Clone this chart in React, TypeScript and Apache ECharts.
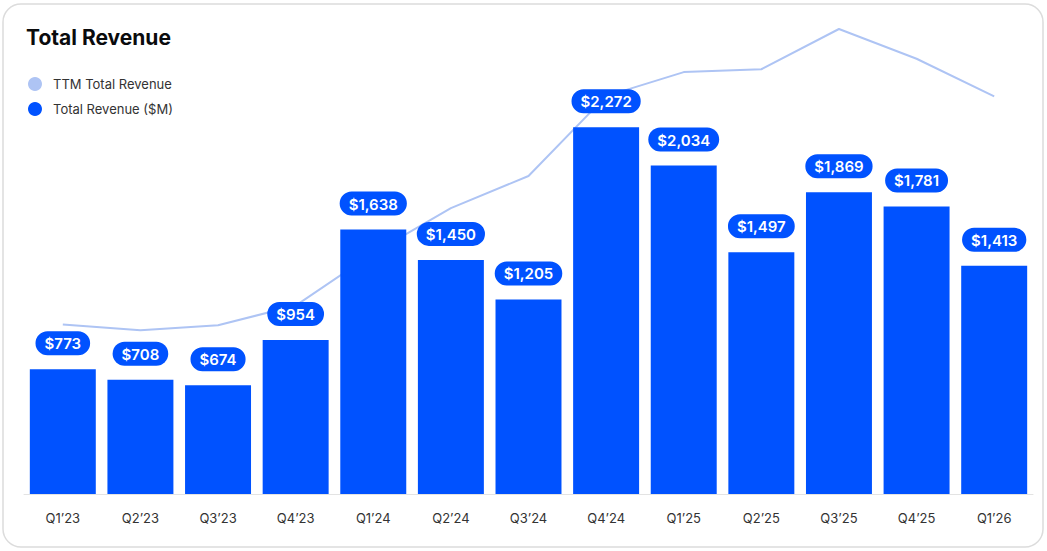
import React, { useEffect, useRef } from "react";
import * as echarts from "echarts";

const categories = ["Q1’23", "Q2’23", "Q3’23", "Q4’23", "Q1’24", "Q2’24", "Q3’24", "Q4’24", "Q1’25", "Q2’25", "Q3’25", "Q4’25", "Q1’26"];
const revenue = [773, 708, 674, 954, 1638, 1450, 1205, 2272, 2034, 1497, 1869, 1781, 1413];
const ttmRevenue = [2795, 2700, 2784, 3109, 3974, 4716, 5247, 6565, 6961, 7008, 7672, 7181, 6560];

const FONT = "Inter, 'Noto Sans', sans-serif";
const BLUE = "#0052ff";
const LIGHT = "#aec4f4";

export default function App() {
  const ref = useRef<HTMLDivElement>(null);
  useEffect(() => {
    if (!ref.current) return;
    const chart = echarts.init(ref.current, undefined, { renderer: "svg" });
    chart.setOption({
      animation: false,
      backgroundColor: "#ffffff",
      textStyle: { fontFamily: FONT },
      graphic: [
        {
          type: "rect",
          z: -10,
          silent: true,
          shape: { x: 3, y: 4, width: 1040, height: 543, r: 18 },
          style: { fill: "#ffffff", stroke: "#dcdcdc", lineWidth: 1.5 },
        },
      ],
      title: {
        text: "Total Revenue",
        left: 26,
        top: 27,
        padding: 0,
        textStyle: { fontFamily: FONT, fontSize: 21, fontWeight: "bold", color: "#0a0b0d" },
      },
      legend: {
        orient: "vertical",
        left: 28,
        top: 77,
        padding: 0,
        itemGap: 11,
        itemWidth: 14,
        itemHeight: 14,
        icon: "circle",
        data: ["TTM Total Revenue", "Total Revenue ($M)"],
        textStyle: { fontFamily: FONT, fontSize: 13, color: "#333333", padding: [0, 0, 0, 6] },
      },
      grid: { left: 24, right: 14, top: 29, bottom: 57, containLabel: false },
      xAxis: {
        type: "category",
        data: categories,
        axisLine: { show: true, lineStyle: { color: "#e3e3e3", width: 1 } },
        axisTick: { show: false },
        axisLabel: { margin: 17, fontFamily: FONT, fontSize: 13, color: "#333333" },
      },
      yAxis: [
        { type: "value", min: 0, max: 2880, show: false, splitLine: { show: false } },
        { type: "value", min: 0, max: 7672, show: false, splitLine: { show: false } },
      ],
      series: [
        {
          name: "TTM Total Revenue",
          type: "line",
          yAxisIndex: 1,
          data: ttmRevenue,
          symbol: "none",
          color: LIGHT,
          lineStyle: { color: LIGHT, width: 2 },
          z: 1,
        },
        {
          name: "Total Revenue ($M)",
          type: "bar",
          yAxisIndex: 0,
          data: revenue,
          barWidth: "85%",
          color: BLUE,
          itemStyle: { color: BLUE },
          z: 2,
          label: {
            show: true,
            position: "top",
            distance: 14,
            formatter: (p: any) => "$" + Number(p.value).toLocaleString("en-US"),
            backgroundColor: BLUE,
            borderRadius: 12,
            padding: [5, 9, 4, 9],
            color: "#ffffff",
            fontFamily: FONT,
            fontSize: 15,
            fontWeight: 600,
          },
        },
      ],
    });
    return () => chart.dispose();
  }, []);
  return (
    <div
      ref={ref}
      style={{ position: "fixed", left: 0, top: 0, width: 1047, height: 551 }}
    />
  );
}
